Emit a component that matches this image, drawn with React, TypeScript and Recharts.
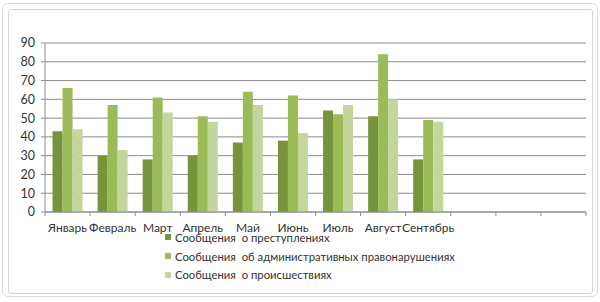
import React from 'react';
import { BarChart, Bar, XAxis, YAxis, CartesianGrid } from 'recharts';

const months = ['Январь', 'Февраль', 'Март', 'Апрель', 'Май', 'Июнь', 'Июль', 'Август', 'Сентябрь', '', '', ''];
const crimes = [43, 30, 28, 30, 37, 38, 54, 51, 28];
const offences = [66, 57, 61, 51, 64, 62, 52, 84, 49];
const incidents = [44, 33, 53, 48, 57, 42, 57, 60, 48];
const yTicks = [0, 10, 20, 30, 40, 50, 60, 70, 80, 90];

const SERIES = [
  { key: 'crimes', name: 'Сообщения  о преступлениях', color: '#77933C' },
  { key: 'offences', name: 'Сообщения  об административных правонарушениях', color: '#9BBB59' },
  { key: 'incidents', name: 'Сообщения  о происшествиях', color: '#C3D69B' },
];

const data = months.map((m, i) => ({
  month: m || `_${i}`,
  label: m,
  crimes: crimes[i],
  offences: offences[i],
  incidents: incidents[i],
}));

const FONT = 'Lato, "Open Sans", sans-serif';
const TEXT = '#333333';
const GRID = '#8c8c8c';

/* подписи категорий по центру, засечки на границах категорий (как в Excel) */
function MonthTick(props: any) {
  const { x, y, payload, index } = props;
  const half = payload.offset || 0;
  const label = data[index] ? data[index].label : '';
  return (
    <g>
      <line x1={x - half} y1={y} x2={x - half} y2={y + 4} stroke={GRID} />
      {index === months.length - 1 && (
        <line x1={x + half} y1={y} x2={x + half} y2={y + 4} stroke={GRID} />
      )}
      <text x={x} y={y + 20} textAnchor="middle" fill={TEXT} fontSize={12} fontFamily={FONT}>
        {label}
      </text>
    </g>
  );
}

function LegendBox() {
  return (
    <div style={{ position: 'absolute', left: 165, top: 228, fontFamily: FONT, fontSize: 11.3, color: TEXT }}>
      {SERIES.map((s) => (
        <div key={s.key} style={{ display: 'flex', alignItems: 'center', height: 18.7, whiteSpace: 'pre' }}>
          <span style={{ width: 6, height: 6, background: s.color, marginRight: 4, display: 'inline-block' }} />
          {s.name}
        </div>
      ))}
    </div>
  );
}

export default function App() {
  return (
    <div style={{ position: 'absolute', left: 0, top: 0, width: 600, height: 302, background: '#fff', overflow: 'hidden' }}>
      {/* рамка диаграммы */}
      <div style={{ position: 'absolute', left: 2, top: 3, width: 594, height: 292, border: '1px solid #dcdcdc', borderRadius: 6 }} />
      <div style={{ position: 'absolute', left: 8, top: 9, width: 583, height: 283, border: '1px solid #d4d4d4', borderRadius: 3 }} />
      <div style={{ position: 'absolute', left: 0, top: 0 }}>
        <BarChart
          width={600}
          height={302}
          data={data}
          margin={{ top: 43, right: 14, left: 0, bottom: 60 }}
          barCategoryGap="16.7%"
          barGap={0}
        >
          <CartesianGrid vertical={false} stroke={GRID} />
          <XAxis
            dataKey="month"
            interval={0}
            height={30}
            stroke={GRID}
            tickLine={false}
            tickSize={0}
            tickMargin={0}
            tick={<MonthTick />}
          />
          <YAxis
            width={45}
            domain={[0, 90]}
            ticks={yTicks}
            interval={0}
            stroke={GRID}
            tickSize={4}
            tickMargin={6}
            tick={{ fill: TEXT, fontSize: 12.5, fontFamily: FONT }}
          />
          {SERIES.map((s) => (
            <Bar key={s.key} dataKey={s.key} name={s.name} fill={s.color} isAnimationActive={false} />
          ))}
        </BarChart>
      </div>
      <LegendBox />
    </div>
  );
}
